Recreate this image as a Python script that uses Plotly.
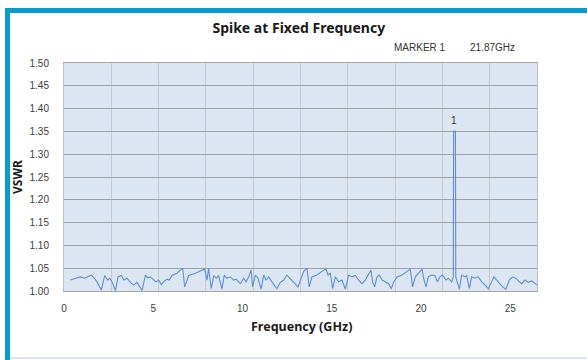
import plotly.graph_objects as go

# ---- data ----
freq_ghz = [0.35, 0.64, 0.92, 1.16, 1.38, 1.53, 1.70, 1.85, 2.09, 2.28, 2.45, 2.56, 2.69, 2.88,
            3.03, 3.21, 3.36, 3.53, 3.72, 3.90, 4.09, 4.37, 4.56, 4.71, 4.84, 4.97, 5.15, 5.30,
            5.45, 5.58, 5.77, 5.90, 6.05, 6.33, 6.65, 6.76, 6.99, 7.36, 7.64, 7.88, 8.01, 8.10,
            8.25, 8.39, 8.53, 8.66, 8.85, 8.98, 9.13, 9.32, 9.51, 9.64, 9.88, 10.07, 10.20,
            10.35, 10.48, 10.57, 10.72, 10.87, 11.04, 11.19, 11.32, 11.47, 11.65, 11.93, 12.12,
            12.31, 12.49, 12.68, 12.87, 13.11, 13.24, 13.43, 13.61, 13.74, 13.89, 14.17, 14.45,
            14.68, 14.79, 14.92, 15.05, 15.20, 15.39, 15.57, 15.76, 15.95, 16.13, 16.32, 16.51,
            16.69, 16.88, 17.03, 17.20, 17.29, 17.40, 17.54, 17.67, 17.82, 18.01, 18.19, 18.34,
            18.47, 18.66, 18.94, 19.22, 19.40, 19.53, 19.68, 19.87, 20.06, 20.13, 20.28, 20.41,
            20.60, 20.78, 20.92, 21.06, 21.21, 21.40, 21.53, 21.72, 21.81, 21.83, 21.93, 21.95,
            22.02, 22.15, 22.28, 22.47, 22.56, 22.71, 22.84, 23.03, 23.21, 23.40, 23.59, 23.77,
            23.96, 24.09, 24.24, 24.43, 24.57, 24.76, 24.95, 25.13, 25.32, 25.51, 25.64, 25.83,
            26.01, 26.20, 26.39, 26.52]
vswr = [1.024, 1.028, 1.031, 1.028, 1.032, 1.035, 1.028, 1.020, 1.002, 1.034, 1.024, 1.028, 1.020, 1.001,
        1.031, 1.034, 1.024, 1.028, 1.019, 1.013, 1.019, 1.001, 1.034, 1.029, 1.031, 1.026, 1.020, 1.024,
        1.014, 1.020, 1.026, 1.024, 1.034, 1.039, 1.050, 1.009, 1.034, 1.039, 1.043, 1.048, 1.024, 1.050,
        1.005, 1.034, 1.028, 1.034, 1.004, 1.035, 1.028, 1.031, 1.024, 1.026, 1.016, 1.028, 1.020,
        1.031, 1.046, 1.009, 1.035, 1.028, 1.004, 1.035, 1.024, 1.031, 1.020, 1.005, 1.019,
        1.024, 1.035, 1.028, 1.019, 1.009, 1.024, 1.043, 1.050, 1.009, 1.031, 1.035, 1.043,
        1.048, 1.035, 1.039, 1.005, 1.031, 1.020, 1.024, 1.004, 1.035, 1.031, 1.034, 1.024,
        1.016, 1.024, 1.035, 1.046, 1.020, 1.009, 1.031, 1.035, 1.024, 1.020, 1.016, 1.005,
        1.020, 1.031, 1.035, 1.043, 1.048, 1.009, 1.031, 1.039, 1.048, 1.031, 1.009, 1.031,
        1.035, 1.034, 1.020, 1.031, 1.035, 1.024, 1.028, 1.020, 1.031, 1.350, 1.350, 1.031,
        1.020, 1.004, 1.035, 1.031, 1.034, 1.005, 1.031, 1.028, 1.031, 1.020, 1.013, 1.005,
        1.020, 1.031, 1.024, 1.016, 1.009, 1.004, 1.024, 1.031, 1.028, 1.020, 1.016, 1.024,
        1.019, 1.022, 1.016, 1.013]

marker_freq = [21.87]
marker_vswr = [1.35]
marker_text = ["1"]

x_tick_vals = [0, 5, 10, 15, 20, 25]
x_tick_text = ["0", "5", "10", "15", "20", "25"]

title_text = "Spike at Fixed Frequency"
marker_label = "MARKER 1"
marker_value = "21.87GHz"

# ---- pixel layout helpers (plot area 64..537 x, 63..291 y) ----
PL, PR, PT, PB = 64, 537, 63, 291
def px(x):
    return (x - PL) / (PR - PL)
def py(y):
    return (PB - y) / (PB - PT)

teal = "#0a9cc9"
tick_font = dict(family="Liberation Sans, Arial, sans-serif", size=10, color="#404040")

fig = go.Figure()
fig.add_trace(go.Scatter(x=freq_ghz, y=vswr, mode="lines",
                         line=dict(color="#5a8fd8", width=1.1),
                         xaxis="x", yaxis="y", showlegend=False, hoverinfo="x+y"))
# invisible trace anchoring the label axis
fig.add_trace(go.Scatter(x=marker_freq, y=marker_vswr, mode="markers",
                         marker=dict(size=1, opacity=0),
                         xaxis="x2", yaxis="y", showlegend=False, hoverinfo="skip"))

marker_annots = [
    dict(text=t, x=f, y=v, xref="x", yref="y", showarrow=False, yshift=11,
         xanchor="center", yanchor="middle",
         font=dict(family="Liberation Sans, Arial, sans-serif", size=10, color="#333333"))
    for f, v, t in zip(marker_freq, marker_vswr, marker_text)
]

fig.update_layout(
    width=587, height=360,
    margin=dict(l=PL, r=587 - PR, t=PT, b=360 - PB, pad=0),
    paper_bgcolor="white",
    plot_bgcolor="#dce6f2",
    title=dict(text="<b>" + title_text + "</b>", x=0.509, xref="container", xanchor="center",
               y=1 - 28 / 360, yref="container", yanchor="middle",
               font=dict(family="Noto Sans, sans-serif", size=14, color="#1a1a1a")),
    xaxis=dict(range=[0, 26.5], dtick=2.65, tick0=0, showticklabels=False, ticks="",
               showgrid=True, gridcolor="#c8c8c8", gridwidth=1, zeroline=False,
               showline=True, linecolor="#a6a6a6", linewidth=1, mirror=True),
    xaxis2=dict(range=[0, 26.5], overlaying="x", anchor="y", side="bottom",
                tickvals=x_tick_vals, ticktext=x_tick_text, ticks="", showgrid=False,
                zeroline=False, showline=False, tickfont=tick_font, ticklabelstandoff=10),
    yaxis=dict(range=[1.0, 1.5], dtick=0.05, tick0=1.0, tickformat=".2f",
               showgrid=True, gridcolor="#a0a0a0", gridwidth=1, zeroline=False,
               showline=True, linecolor="#bfbfbf", linewidth=1, mirror=True,
               ticks="", tickfont=tick_font, ticklabelstandoff=12),
    annotations=marker_annots + [
        dict(text=marker_label, xref="paper", yref="paper", x=px(392), y=py(48),
             xanchor="left", yanchor="middle", showarrow=False,
             font=dict(family="Liberation Sans, Arial, sans-serif", size=10, color="#333333")),
        dict(text=marker_value, xref="paper", yref="paper", x=px(468), y=py(48),
             xanchor="left", yanchor="middle", showarrow=False,
             font=dict(family="Liberation Sans, Arial, sans-serif", size=10, color="#333333")),
        dict(text="<b>Frequency (GHz)</b>", xref="paper", yref="paper", x=px(301), y=py(326),
             xanchor="center", yanchor="middle", showarrow=False,
             font=dict(family="Noto Sans, sans-serif", size=12.5, color="#1a1a1a")),
        dict(text="<b>VSWR</b>", xref="paper", yref="paper", x=px(17), y=py(177),
             xanchor="center", yanchor="middle", showarrow=False, textangle=-90,
             font=dict(family="Noto Sans, sans-serif", size=12, color="#1a1a1a")),
    ],
    shapes=[
        dict(type="rect", xref="paper", yref="paper", x0=px(5), x1=px(10), y0=py(360), y1=py(8),
             fillcolor=teal, line=dict(width=0), layer="above"),
        dict(type="rect", xref="paper", yref="paper", x0=px(5), x1=px(587), y0=py(13), y1=py(8),
             fillcolor=teal, line=dict(width=0), layer="above"),
        dict(type="line", xref="paper", yref="paper", x0=px(10), x1=px(587), y0=py(358), y1=py(358),
             line=dict(color="#dde6ee", width=2), layer="above"),
    ],
)

fig.write_html("out.html")
